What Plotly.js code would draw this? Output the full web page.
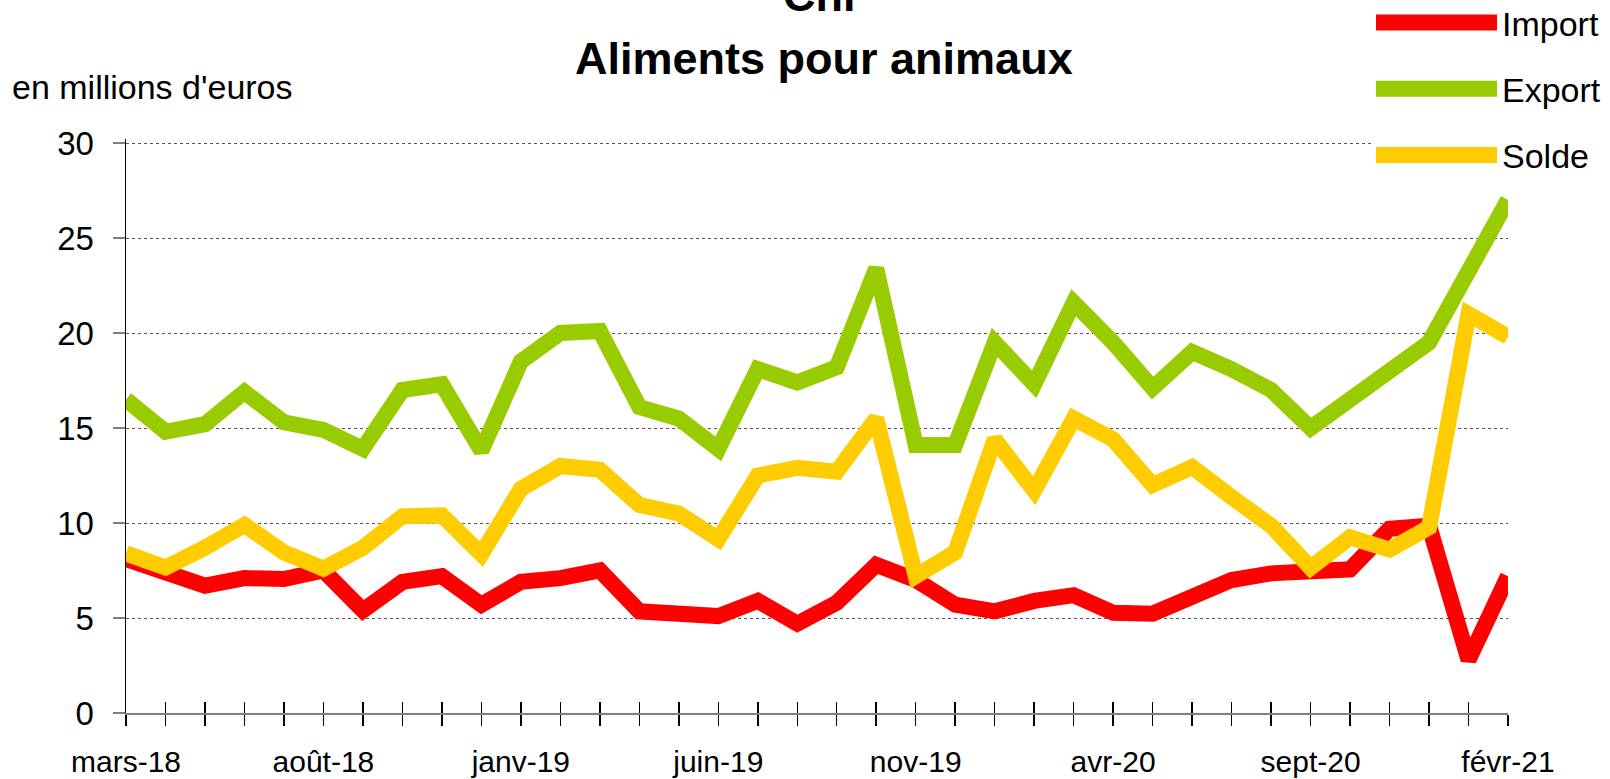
<!DOCTYPE html>
<html>
<head>
<meta charset="utf-8">
<script src="https://cdn.plot.ly/plotly-3.0.1.min.js"></script>
<style>
html, body { margin: 0; padding: 0; background: #ffffff; }
#chart { width: 1610px; height: 779px; }
</style>
</head>
<body>
<div id="chart"></div>
<script>
// ---- data ----
var months = ["mars-18","avr-18","mai-18","juin-18","juil-18","août-18","sept-18","oct-18","nov-18","déc-18",
  "janv-19","févr-19","mars-19","avr-19","mai-19","juin-19","juil-19","août-19","sept-19","oct-19","nov-19","déc-19",
  "janv-20","févr-20","mars-20","avr-20","mai-20","juin-20","juil-20","août-20","sept-20","oct-20","nov-20","déc-20",
  "janv-21","févr-21"];
var importV = [8.1, 7.5, 6.7, 7.1, 7.05, 7.5, 5.4, 6.9, 7.2, 5.7, 6.9, 7.1, 7.5, 5.35, 5.3, 5.1, 5.9, 4.7, 5.8, 7.8,
  7.0, 5.7, 5.35, 5.9, 6.2, 5.27, 5.23, 6.2, 7.0, 7.35, 7.5, 7.56, 9.7, 9.86, 2.8, 7.2];
var exportV = [16.5, 14.8, 15.2, 16.9, 15.3, 14.9, 13.9, 17.0, 17.3, 13.8, 18.5, 20.0, 20.1, 16.1, 15.5, 13.9, 18.1, 17.4,
  18.2, 23.4, 14.1, 14.1, 19.5, 17.3, 21.6, 19.5, 17.1, 19.0, 18.1, 17.0, 15.0, 16.6, 18.0, 19.5, 23.4, 27.0];
var soldeV = [8.4, 7.65, 8.7, 9.9, 8.45, 7.6, 8.7, 10.35, 10.4, 8.36, 11.8, 13.0, 12.8, 10.95, 10.5, 9.15, 12.5, 12.9,
  12.7, 15.5, 7.2, 8.45, 14.4, 11.7, 15.5, 14.4, 12.0, 12.95, 11.36, 9.86, 7.65, 9.24, 8.6, 9.77, 21.0, 19.8];
var seriesNames = ["Import", "Export", "Solde"];
var seriesColors = ["#FF0000", "#99CC00", "#FFCC00"];
var titleLine1 = "Chi";
var titleLine2 = "Aliments pour animaux";
var yTitle = "en millions d'euros";
var yMax = 30;
var labelStep = 5;

var tickText = months.map(function (m, i) { return i % labelStep === 0 ? m : ""; });
var FONT = "'Liberation Sans', Arial, sans-serif";

var traces = [importV, exportV, soldeV].map(function (vals, k) {
  return {
    type: "scatter", mode: "lines", x: months, y: vals, name: seriesNames[k],
    line: { color: seriesColors[k], width: 16 }, legendgroup: "g" + k,
    hoverinfo: "x+y+name"
  };
});
// empty helper trace so that the overlaid axis (inner half of the crossing ticks) is drawn
traces.unshift({ type: "scatter", mode: "lines", x: [], y: [], xaxis: "x2", yaxis: "y",
  showlegend: false, hoverinfo: "skip" });

// plot frame: value 0 at y=713 px, value 30 at y=143 px; a little head room keeps the top grid line
var PT = 139, PB = 66, PH = 779 - PT - PB;
var yTop = yMax * PH / (713 - 143);
function py(pix) { return (779 - PB - pix) / PH; }
function px(pix) { return (pix - 126) / (1610 - 126 - 102); }

var layout = {
  width: 1610, height: 779,
  margin: { l: 126, r: 102, t: PT, b: PB, pad: 0, autoexpand: false },
  paper_bgcolor: "#ffffff", plot_bgcolor: "#ffffff",
  font: { family: FONT, color: "#000000", size: 30 },
  showlegend: true,
  legend: {
    x: px(1371), xanchor: "left", y: py(-6), yanchor: "top",
    bgcolor: "#ffffff", borderwidth: 0,
    font: { family: FONT, size: 34, color: "#000000" },
    itemwidth: 121, tracegroupgap: 19, traceorder: "grouped"
  },
  xaxis: {
    type: "category", range: [0, 35],
    tickmode: "array", tickvals: months, ticktext: tickText,
    ticks: "outside", ticklen: 11, tickwidth: 1.5, tickcolor: "#000000",
    showline: true, linecolor: "#808080", linewidth: 2,
    showgrid: false, zeroline: false,
    tickfont: { family: FONT, size: 30, color: "#000000" },
    ticklabelstandoff: 10, tickangle: 0, automargin: false, fixedrange: true
  },
  xaxis2: {
    type: "category", overlaying: "x", matches: "x", anchor: "y", side: "bottom",
    tickmode: "array", tickvals: months,
    ticks: "inside", ticklen: 11, tickwidth: 1.5, tickcolor: "#000000",
    showline: false, showgrid: false, zeroline: false, showticklabels: false, fixedrange: true
  },
  yaxis: {
    range: [0, yTop], tickmode: "array", tickvals: [0, 5, 10, 15, 20, 25, 30],
    ticks: "outside", ticklen: 12, tickwidth: 1.5, tickcolor: "#808080",
    showline: true, linecolor: "#000000", linewidth: 1.5,
    showgrid: true, gridcolor: "#555555", gridwidth: 1, griddash: "dot",
    zeroline: false,
    tickfont: { family: FONT, size: 33, color: "#000000" },
    ticklabelstandoff: 12, automargin: false, fixedrange: true
  },
  title: {
    text: titleLine2, x: 813 / 1610, xanchor: "center", xref: "paper",
    y: 1 - 58 / 779, yanchor: "middle", yref: "container",
    font: { family: FONT, size: 45, color: "#000000", weight: "bold" }
  },
  annotations: [
    {
      text: "<b>" + titleLine1 + "</b>", xref: "paper", yref: "paper",
      x: px(820), xanchor: "center", y: py(-4), yanchor: "middle",
      showarrow: false, font: { family: FONT, size: 45, color: "#000000" }
    },
    {
      text: yTitle, xref: "paper", yref: "paper",
      x: px(10), xanchor: "left", y: py(87), yanchor: "middle",
      showarrow: false, font: { family: FONT, size: 34, color: "#000000" }
    }
  ]
};

Plotly.newPlot("chart", traces, layout, { displayModeBar: false, staticPlot: true }).then(function (gd) {
  // legend swatches as thick as the plotted lines
  gd.querySelectorAll(".legend .js-line").forEach(function (p) {
    p.style.strokeWidth = "16px";
  });
});
</script>
</body>
</html>
